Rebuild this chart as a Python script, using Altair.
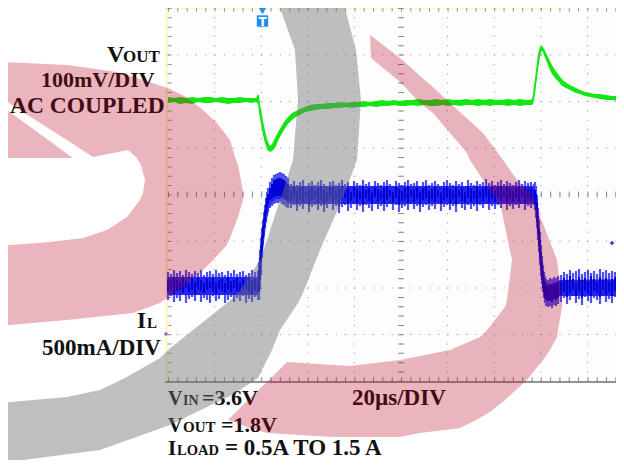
import altair as alt
import pandas as pd

# ---- grid positions
V_LINES = [168, 214.6, 261.2, 307.8, 354.4, 401, 447.6, 494.2, 540.8, 587.4]
H_LINES = [8, 54.8, 101.5, 148.2, 194.5, 241, 288, 334.5, 381]

# ---- green trace (VOUT): sampled x with upper and lower edge of the trace
G_X = [168,174,180,186,192,198,204,210,216,222,228,234,240,246,252,
       256,258,259,260,261,262,263,264,265,266,267,268,269,270,
       272,274,276,278,281,284,288,292,296,300,305,310,
       316,322,328,334,340,346,352,358,364,370,376,382,388,394,400,406,412,418,
       424,430,436,442,448,454,460,466,472,478,484,490,496,502,508,514,520,526,
       530,532,533,534,535,536,537,538,539,540,541,542,543,544,546,548,550,552,555,558,
       561,564,568,572,576,580,585,590,595,600,606,612,618,624]
G_TOP = [97,98,97,98,97,98,97,97,98,97,98,98,97,98,98,
         98,94,96,104,110,115,121,126,131,135,139,142,144,146,
         144,140,136,132,127,122,117,113,111,109,107,105,
         104,104,103,103,102,103,102,102,101,102,101,100,101,100,101,100,100,99,
         100,100,99,100,99,100,100,99,100,99,100,99,100,100,99,100,99,100,
         100,99,94,86,78,70,62,54,50,47,46,46,47,49,53,57,61,65,70,74,
         78,81,84,86,88,90,92,93,94,94,95,96,96,96]
G_BOT = [103,102,104,103,104,102,103,103,102,103,104,103,103,102,103,
         102,104,112,118,124,130,135,139,143,146,149,151,151,152,
         151,149,146,141,135,130,124,120,117,115,112,111,
         110,109,109,108,108,107,108,107,107,106,107,106,106,105,106,106,105,106,
         105,106,106,105,106,105,106,105,105,106,105,106,105,105,106,105,106,105,
         105,105,104,100,94,86,78,70,63,57,52,51,52,55,60,65,70,74,78,81,
         85,87,89,91,93,94,96,97,98,99,100,100,101,101]

# ---- blue trace (IL): ripple envelope, outer strokes and dense core
B1_X = list(range(168, 261, 3))
B1_TOP = [272,274,270,273,271,275,270,272,274,271,273,270,275,272,271,274,270,273,272,275,271,273,270,274,272,271,275,273,270,272,271]
B1_BOT = [300,296,302,298,301,295,303,299,297,301,295,302,298,300,303,296,301,299,295,303,300,297,302,298,301,296,303,299,302,297,300]
B1_CT = [279,281,277,280,282,278,281,283,279,282,278,280,283,279,281,278,282,280,279,283,277,281,280,278,282,279,281,277,280,279,281]
B1_CB = [292,289,294,291,290,293,288,292,290,294,289,291,293,290,288,292,294,289,291,293,290,292,288,291,293,290,289,292,294,290,292]

B2_X = [259,260,261,262,263,264,265,266,267,268,270,272,274,276,278,280,282,284,286,288]
B2_TOP = [262,250,238,228,220,212,205,198,192,188,182,178,175,174,173,172,173,174,176,178]
B2_BOT = [300,290,275,258,245,236,228,222,216,212,208,206,204,203,203,202,204,205,207,208]
B2_CT = [270,258,245,235,226,218,210,204,198,194,188,184,180,179,178,178,179,180,182,184]
B2_CB = [292,280,262,250,238,228,220,214,208,204,200,198,197,196,196,196,197,199,200,202]

B3_X = list(range(291, 537, 3))
B3_TOP = [184,181,185,182,180,186,183,181,185,182,180,184,186,182,181,185,183,180,184,182,
          186,181,183,185,180,184,182,186,181,183,185,182,180,184,186,181,183,185,182,180,
          184,183,181,186,182,180,185,183,181,184,186,182,180,183,185,181,184,182,186,180,
          183,185,181,184,182,179,183,181,185,182,180,184,181,183,185,182,180,184,181,183,182,184]
B3_BOT = [208,205,211,206,209,204,212,207,205,210,206,212,208,204,210,206,213,207,205,211,
          208,204,210,206,212,205,208,211,204,209,206,211,207,204,210,205,212,208,206,210,
          204,209,206,212,207,205,210,206,209,204,211,207,205,210,206,212,204,208,210,205,
          209,206,211,205,208,204,210,206,209,205,208,204,210,206,209,205,208,204,210,206,208,205]
B3_CT = [190,187,191,188,186,192,189,187,191,188,186,190,192,188,187,191,189,186,190,188,
         192,187,189,191,186,190,188,192,187,189,191,188,186,190,192,187,189,191,188,186,
         190,189,187,192,188,186,191,189,187,190,192,188,186,189,191,187,190,188,192,186,
         189,191,187,190,188,186,189,187,191,188,186,190,187,189,191,188,186,190,187,189,188,190]
B3_CB = [201,198,204,199,202,197,205,200,198,203,199,205,201,197,203,199,206,200,198,204,
         201,197,203,199,205,198,201,204,197,202,199,204,200,197,203,198,205,201,199,203,
         197,202,199,205,200,198,203,199,202,197,204,200,198,203,199,205,197,201,203,198,
         202,199,204,198,201,197,203,199,202,198,201,197,203,199,202,198,201,197,203,199,201,198]

B4_X = [535,536,537,538,539,540,541,542,543,544,545,546,548,550,552,554,556,558]
B4_TOP = [182,186,195,208,220,232,245,256,265,272,276,279,280,278,279,277,278,276]
B4_BOT = [210,218,228,240,252,265,276,284,292,298,303,306,307,306,308,305,306,304]
B4_CT = [190,194,202,216,228,240,252,262,271,278,282,285,286,284,285,283,284,282]
B4_CB = [204,210,222,234,246,258,270,280,288,292,297,300,301,300,302,299,300,298]

B5_X = list(range(561, 627, 3))
B5_TOP = [275,272,274,270,273,271,269,274,272,270,273,271,274,269,272,270,273,271,272,274,270,273]
B5_BOT = [302,298,304,300,296,303,299,305,297,301,303,298,300,304,296,302,299,303,297,301,300,298]
B5_CT = [281,278,280,276,279,282,277,280,278,281,276,279,282,277,280,278,281,279,277,280,278,281]
B5_CB = [295,292,297,293,290,296,292,298,291,294,296,291,293,297,290,295,292,296,291,294,293,291]

# ---- solid middle of the blue trace
BAND_X = [168,258,260,263,266,270,276,284,290,534,536,538,540,544,550,560,624]
BAND_T = [277,277,262,232,212,190,180,180,186,186,196,222,246,280,285,280,279]
BAND_B = [295,295,280,250,224,204,199,199,204,204,210,232,258,298,301,296,296]

# ---- background watermark outlines: (y, left x, right x)
PINK_A = [(62,0,5),(65,0,67),(72,0,117),(80,0,143),(88,0,168),(97,0,186),(110,20,203),(123,40,217),(140,67,230),(150,82,233)]
PINK_B = [(150,82,128),(157,93,93)]
PINK_C = [(150,128,233),(157,136,235),(165,141,238),(180,145,241),(193,143,243),(200,140,243),(217,127,238),
          (230,107,233),(238,83,230),(242,50,228),(246,0,226),(260,0,213),(273,0,200),(290,0,178),(303,0,160),
          (313,0,133),(320,0,67),(326,0,0)]
PINK_D = [(105,0,0),(158,0,73)]
PINK_E = [(35,370,370),(58,371,400),(82,400,427),(87,405,433),(103,420,450),(113,433,461),(133,450,483),(153,467,498),
          (160,470,503),(180,483,517),(193,492,530),(203,500,535),(260,512,557),(300,507,562),(307,505,562),(330,487,558),
          (337,480,557),(350,450,550),(360,400,543),(366,350,538)]
PINK_F = [(362,287,287),(366,283,350)]
PINK_G = [(366,283,538),(380,269,527),(400,248,505),(412,236,490),(420,228,476),(428,250,460),(433,267,420),(437,333,400)]
GRAY_A = [(8,280,345),(50,295,356),(100,298,361),(160,293,357),(200,280,342),(243,266,323),(260,260,316),(293,238,303),
          (303,227,298),(330,193,280),(350,168,272),(358,160,268),(378,125,258),(390,100,240),(397,67,228),(403,0,215),
          (425,0,170),(450,0,100),(463,0,0)]

# ---- text: string, x, baseline y, font size
TEXTS = [("V",107,62,24),("OUT",123,62,17),("100mV/DIV",41,87,22),("AC COUPLED",10,113,23.5),
         ("I",137,328,23),("L",147,328,15),("500mA/DIV",42,355,23),
         ("V",168,405,20),("IN",183,405,14),("=3.6V",202,405,22),("20µs/DIV",352,405,23),
         ("V",168,432,20),("OUT",183,432,15),("=1.8V",221,432,22),
         ("I",168,455,21),("LOAD",177,455,14.5),("= 0.5A TO 1.5 A",225,455,23)]

xs = alt.Scale(domain=[8, 616], nice=False, zero=False)
ys = alt.Scale(domain=[8, 460], nice=False, zero=False, reverse=True)
X = lambda f="x": alt.X(f"{f}:Q", scale=xs, axis=None)
Y = lambda f="y": alt.Y(f"{f}:Q", scale=ys, axis=None)


def rects(rows):
    return pd.DataFrame(rows, columns=["x", "x2", "y", "y2", "c"])


bg = alt.Chart(rects([(168, 616, 8, 382, "#fdfdfd"), (165.5, 168, 8, 382, "#fff7c4"), (168, 566, 8, 9, "#fff7c4")])).mark_rect().encode(
    x=X(), x2="x2:Q", y=Y(), y2="y2:Q", color=alt.Color("c:N", scale=None))

DOT = [1, 8.32]
v_grid = alt.Chart(pd.DataFrame({"x": V_LINES, "y": 8, "y2": 381})).mark_rule(color="#8a8a8a", strokeWidth=1, strokeDash=DOT).encode(x=X(), y=Y(), y2="y2:Q")
h_grid = alt.Chart(pd.DataFrame({"y": H_LINES, "x": 168, "x2": 616})).mark_rule(color="#8a8a8a", strokeWidth=1, strokeDash=DOT).encode(y=Y(), x=X(), x2="x2:Q")

edge_h = alt.Chart(pd.DataFrame({"y": [10, 379, 194.5], "x": 168, "x2": 616, "w": [3, 4, 6]})).mark_rule(color="#8a8a8a", strokeDash=[1, 8.32]).encode(
    y=Y(), x=X(), x2="x2:Q", strokeWidth=alt.StrokeWidth("w:Q", scale=None))
edge_v = alt.Chart(pd.DataFrame({"x": [170, 401], "y": 8, "y2": 381, "w": [3, 6]})).mark_rule(color="#8a8a8a", strokeDash=[1, 8.32]).encode(
    x=X(), y=Y(), y2="y2:Q", strokeWidth=alt.StrokeWidth("w:Q", scale=None))
base = alt.Chart(pd.DataFrame({"y": [382], "x": 165, "x2": 616})).mark_rule(color="#6e6e6e", strokeWidth=1.6).encode(y=Y(), x=X(), x2="x2:Q")

green = alt.Chart(pd.DataFrame({"x": G_X, "t": G_TOP, "b": G_BOT})).mark_area(color="#14e614", clip=True).encode(x=X(), y=Y("t"), y2="b:Q")

bx = B1_X + B2_X + B3_X + B4_X + B5_X
blue_df = pd.DataFrame({
    "x": bx,
    "t": B1_TOP + B2_TOP + B3_TOP + B4_TOP + B5_TOP,
    "b": B1_BOT + B2_BOT + B3_BOT + B4_BOT + B5_BOT,
    "ct": B1_CT + B2_CT + B3_CT + B4_CT + B5_CT,
    "cb": B1_CB + B2_CB + B3_CB + B4_CB + B5_CB,
})
blue_o = alt.Chart(blue_df).mark_rule(color="#5050f4", strokeWidth=2.2, clip=True).encode(x=X(), y=Y("t"), y2="b:Q")
blue_b = alt.Chart(pd.DataFrame({"x": BAND_X, "t": BAND_T, "b": BAND_B})).mark_area(color="#2424ee", clip=True).encode(x=X(), y=Y("t"), y2="b:Q")
blue_c = alt.Chart(blue_df).mark_rule(color="#0000d0", strokeWidth=1.8, clip=True).encode(x=X(), y=Y("ct"), y2="cb:Q")

trig = pd.DataFrame({"x": [262.5], "y": [21]})
pin = alt.Chart(trig).mark_point(shape="square", filled=True, size=130, opacity=1, color="#1e8fef").encode(x=X(), y=Y())
pin_tip = alt.Chart(pd.DataFrame({"x": [262.5], "y": [10.5]})).mark_point(shape="triangle-down", filled=True, size=75, opacity=1, color="#1e8fef").encode(x=X(), y=Y())
pin_t = alt.Chart(pd.DataFrame({"x": [262.5], "y": [26], "s": ["T"]})).mark_text(font="DejaVu Sans", fontWeight="bold", fontSize=12, color="white", baseline="alphabetic").encode(x=X(), y=Y(), text="s:N")
marks = alt.Chart(pd.DataFrame({"x": [612, 166], "y": [243, 334], "c": ["#3a3ae8", "#b060e0"]})).mark_point(shape="diamond", filled=True, size=22, opacity=1).encode(
    x=X(), y=Y(), color=alt.Color("c:N", scale=None))

tx = pd.DataFrame(TEXTS, columns=["s", "x", "y", "z"])
text = alt.Chart(tx).mark_text(font="Liberation Serif", fontWeight="bold", align="left", baseline="alphabetic", color="#111111").encode(
    x=X(), y=Y(), text="s:N", size=alt.Size("z:Q", scale=None))


def piece(rows, name):
    d = pd.DataFrame(rows, columns=["y", "x", "x2"])
    d["p"] = name
    return d


pink_df = pd.concat([piece(r, n) for n, r in [("a", PINK_A), ("b", PINK_B), ("c", PINK_C), ("d", PINK_D), ("e", PINK_E), ("f", PINK_F), ("g", PINK_G)]])
pink = alt.Chart(pink_df).mark_area(orient="horizontal", color="#b7001c", opacity=0.29, clip=True).encode(y=Y(), x=X(), x2="x2:Q", detail="p:N")
gray = alt.Chart(piece(GRAY_A, "g")).mark_area(orient="horizontal", color="#707070", opacity=0.45, clip=True).encode(y=Y(), x=X(), x2="x2:Q", detail="p:N")

chart = alt.layer(bg, v_grid, h_grid, edge_h, edge_v, base, green, blue_o, blue_b, blue_c, pin, pin_tip, pin_t, marks, text, pink, gray).properties(
    width=608, height=452, padding=0, autosize=alt.AutoSizeParams(type="none"), background="white"
).configure_view(stroke=None)

chart.save("out.html", embed_options={"renderer": "svg", "actions": False})
